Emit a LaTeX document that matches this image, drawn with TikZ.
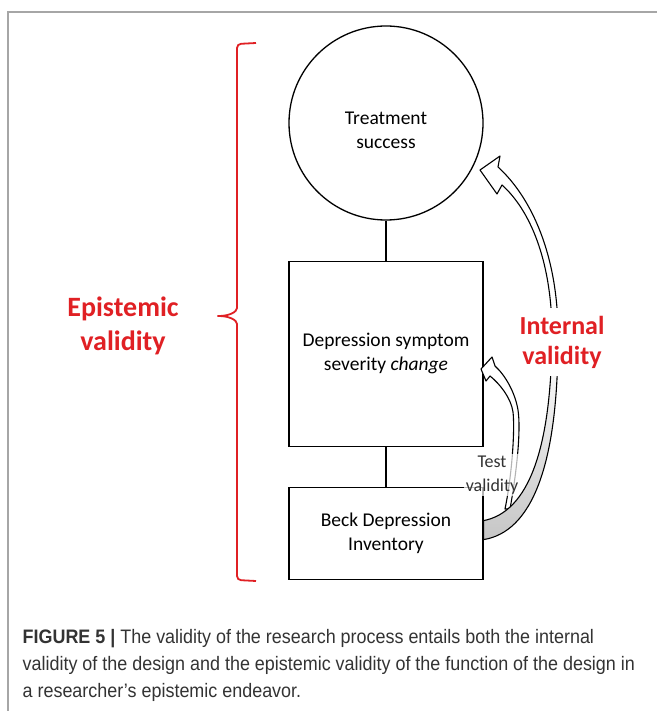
\documentclass[tikz,border=0pt]{standalone}
\usepackage{fontspec}
\setmainfont{Carlito}
\newfontfamily\capfont[FakeStretch=0.92]{Liberation Sans}
\usepackage{tikz}
\usetikzlibrary{positioning,calc}
\definecolor{epired}{RGB}{224,32,36}
\definecolor{capgray}{RGB}{51,51,51}

\begin{document}
\begin{tikzpicture}[x=1pt, y=1pt, line width=1.3pt,
  box/.style={draw, minimum width=194pt, inner sep=2pt, align=center, font=\fontsize{19.5}{24}\selectfont},
  redlab/.style={text=epired, align=center, font=\fontsize{26}{30}\selectfont\bfseries},
  blockarrow/.style={draw, line width=1.1pt, line join=round}]
  \useasboundingbox (0,0) rectangle (657,-711);
  \draw[gray!70, line width=1.2pt] (657,-12) -- (8,-12) -- (8,-711);

  % chain of constructs
  \node[box, circle, minimum size=194pt, inner sep=0pt] (succ) at (386,-123) {\rule{0pt}{27pt}Treatment\\success};
  \node[box, minimum height=185pt, below=40pt of succ] (change) {Depression symptom\\severity \textit{change}};
  \node[box, minimum height=92pt, below=40pt of change] (beck) {Beck Depression\\Inventory};
  \draw (succ) -- (change);
  \draw (change) -- (beck);

  % epistemic brace
  \node[redlab, font=\fontsize{28}{34}\selectfont\bfseries] (epi) at (123,-326) {Epistemic\\validity};
  \draw[epired, line width=1.8pt, rounded corners=4pt] (256,-43) -- (237,-44) -- (237,-304)
    .. controls (237,-312) and (229,-316) .. (215,-316)
    .. controls (229,-316) and (237,-320) .. (237,-328) -- (237,-580) -- (256,-581);

  % test validity arrow
  \filldraw[blockarrow, fill=white] (510,-509) .. controls (517,-470) and (521,-430) .. (518,-410)
    .. controls (515,-392) and (505,-375) .. (495,-366)
    -- (492,-357) -- (481,-369) -- (486,-381) -- (490,-376)
    .. controls (500,-384) and (511,-398) .. (513,-412)
    .. controls (515,-430) and (512,-475) .. (505,-509) -- cycle;
  \node[align=center, text=black!80, fill=white, fill opacity=0.7, text opacity=1, inner sep=2pt,
    font=\fontsize{18}{24}\selectfont] (testval) at (492,-475) {Test\\validity};

  % internal validity arrow
  \path[blockarrow, top color=white, bottom color=gray!45, middle color=white]
    ($(beck.east)+(0,-6)$) .. controls (530,-532) and (559,-470) .. (558,-330)
    .. controls (557,-255) and (532,-198) .. (498,-167)
    -- (500,-156) -- (480,-170) -- (497,-194) -- (502,-185)
    .. controls (530,-210) and (551,-260) .. (552,-330)
    .. controls (552,-450) and (528,-512) .. ($(beck.east)+(0,13)$) -- cycle;
  \node[redlab, fill=white, inner sep=8pt] (intval) at (562,-342) {Internal\\validity};

  % caption
  \node[anchor=north west, inner sep=0pt, align=left, text=capgray,
    font=\capfont\fontsize{19.5}{27}\selectfont] (cap) at (22,-629)
    {\textbf{FIGURE 5 |} The validity of the research process entails both the internal\\
     validity of the design and the epistemic validity of the function of the design in\\
     a researcher’s epistemic endeavor.};
\end{tikzpicture}
\end{document}
